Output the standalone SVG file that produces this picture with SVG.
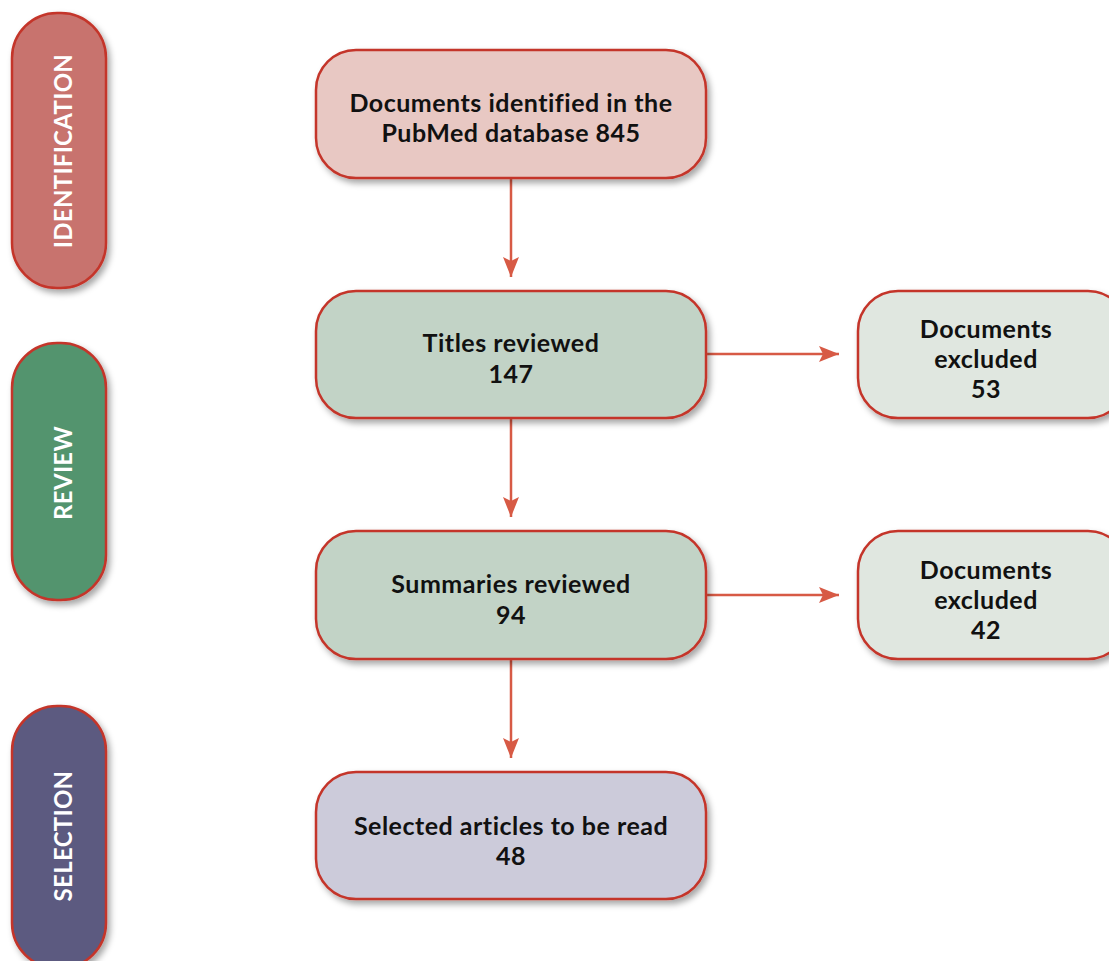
<svg xmlns="http://www.w3.org/2000/svg" width="1109" height="961" viewBox="0 0 1109 961">
<style>
.box{stroke:#c4352a;stroke-width:2.5;filter:url(#sh)}
.t{font-family:Lato,"Open Sans",sans-serif;font-weight:700;font-size:25px;fill:#111;text-anchor:middle;letter-spacing:0.5px}
.v{font-family:Lato,"Open Sans",sans-serif;font-weight:700;font-size:24px;fill:#fff;text-anchor:middle;letter-spacing:0.3px}
.c{stroke:#d75a45;stroke-width:2.5;fill:none;marker-end:url(#ah2)}
</style>
<defs>
<filter id="sh" x="-20%" y="-20%" width="140%" height="140%">
<feDropShadow dx="3" dy="4" stdDeviation="3" flood-color="#000" flood-opacity="0.35"/>
</filter>
<marker id="ah2" viewBox="0 0 20 16" refX="20" refY="8" markerWidth="20" markerHeight="16" orient="auto" markerUnits="userSpaceOnUse">
<path d="M0,0 L20,8 L0,16 L4,8 Z" fill="#d75a45"/>
</marker>
</defs>
<g id="phase-identification">
<rect class="box" x="12" y="13" width="94" height="275" rx="45" fill="#c8736e"/>
<text class="v" transform="translate(72,151) rotate(-90)">IDENTIFICATION</text>
</g>
<g id="phase-review">
<rect class="box" x="12" y="343" width="94" height="257" rx="45" fill="#52946e"/>
<text class="v" transform="translate(72,473) rotate(-90)">REVIEW</text>
</g>
<g id="phase-selection">
<rect class="box" x="12" y="706" width="94" height="262" rx="45" fill="#5b5a80"/>
<text class="v" transform="translate(72,836) rotate(-90)">SELECTION</text>
</g>
<g id="connectors">
<path class="c" d="M511,178 V277"/>
<path class="c" d="M511,418 V517"/>
<path class="c" d="M511,659 V758"/>
<path class="c" d="M706,354 H839"/>
<path class="c" d="M706,595 H839"/>
</g>
<g id="identified">
<rect class="box" x="316" y="50" width="390" height="128" rx="40" fill="#e8c8c3"/>
<text class="t" x="511" y="112">Documents identified in the</text>
<text class="t" x="511" y="142">PubMed database 845</text>
</g>
<g id="titles">
<rect class="box" x="316" y="291" width="390" height="127" rx="40" fill="#c2d3c6"/>
<text class="t" x="511" y="352">Titles reviewed</text>
<text class="t" x="511" y="383">147</text>
</g>
<g id="summaries">
<rect class="box" x="316" y="531" width="390" height="128" rx="40" fill="#c2d3c6"/>
<text class="t" x="511" y="593">Summaries reviewed</text>
<text class="t" x="511" y="624">94</text>
</g>
<g id="selected">
<rect class="box" x="316" y="772" width="390" height="127" rx="40" fill="#cccbda"/>
<text class="t" x="511" y="835">Selected articles to be read</text>
<text class="t" x="511" y="865">48</text>
</g>
<g id="excluded1">
<rect class="box" x="858" y="291" width="270" height="127" rx="40" fill="#e0e7e0"/>
<text class="t" x="986" y="338">Documents</text>
<text class="t" x="986" y="368">excluded</text>
<text class="t" x="986" y="398">53</text>
</g>
<g id="excluded2">
<rect class="box" x="858" y="531" width="270" height="128" rx="40" fill="#e0e7e0"/>
<text class="t" x="986" y="579">Documents</text>
<text class="t" x="986" y="609">excluded</text>
<text class="t" x="986" y="639">42</text>
</g>
</svg>
